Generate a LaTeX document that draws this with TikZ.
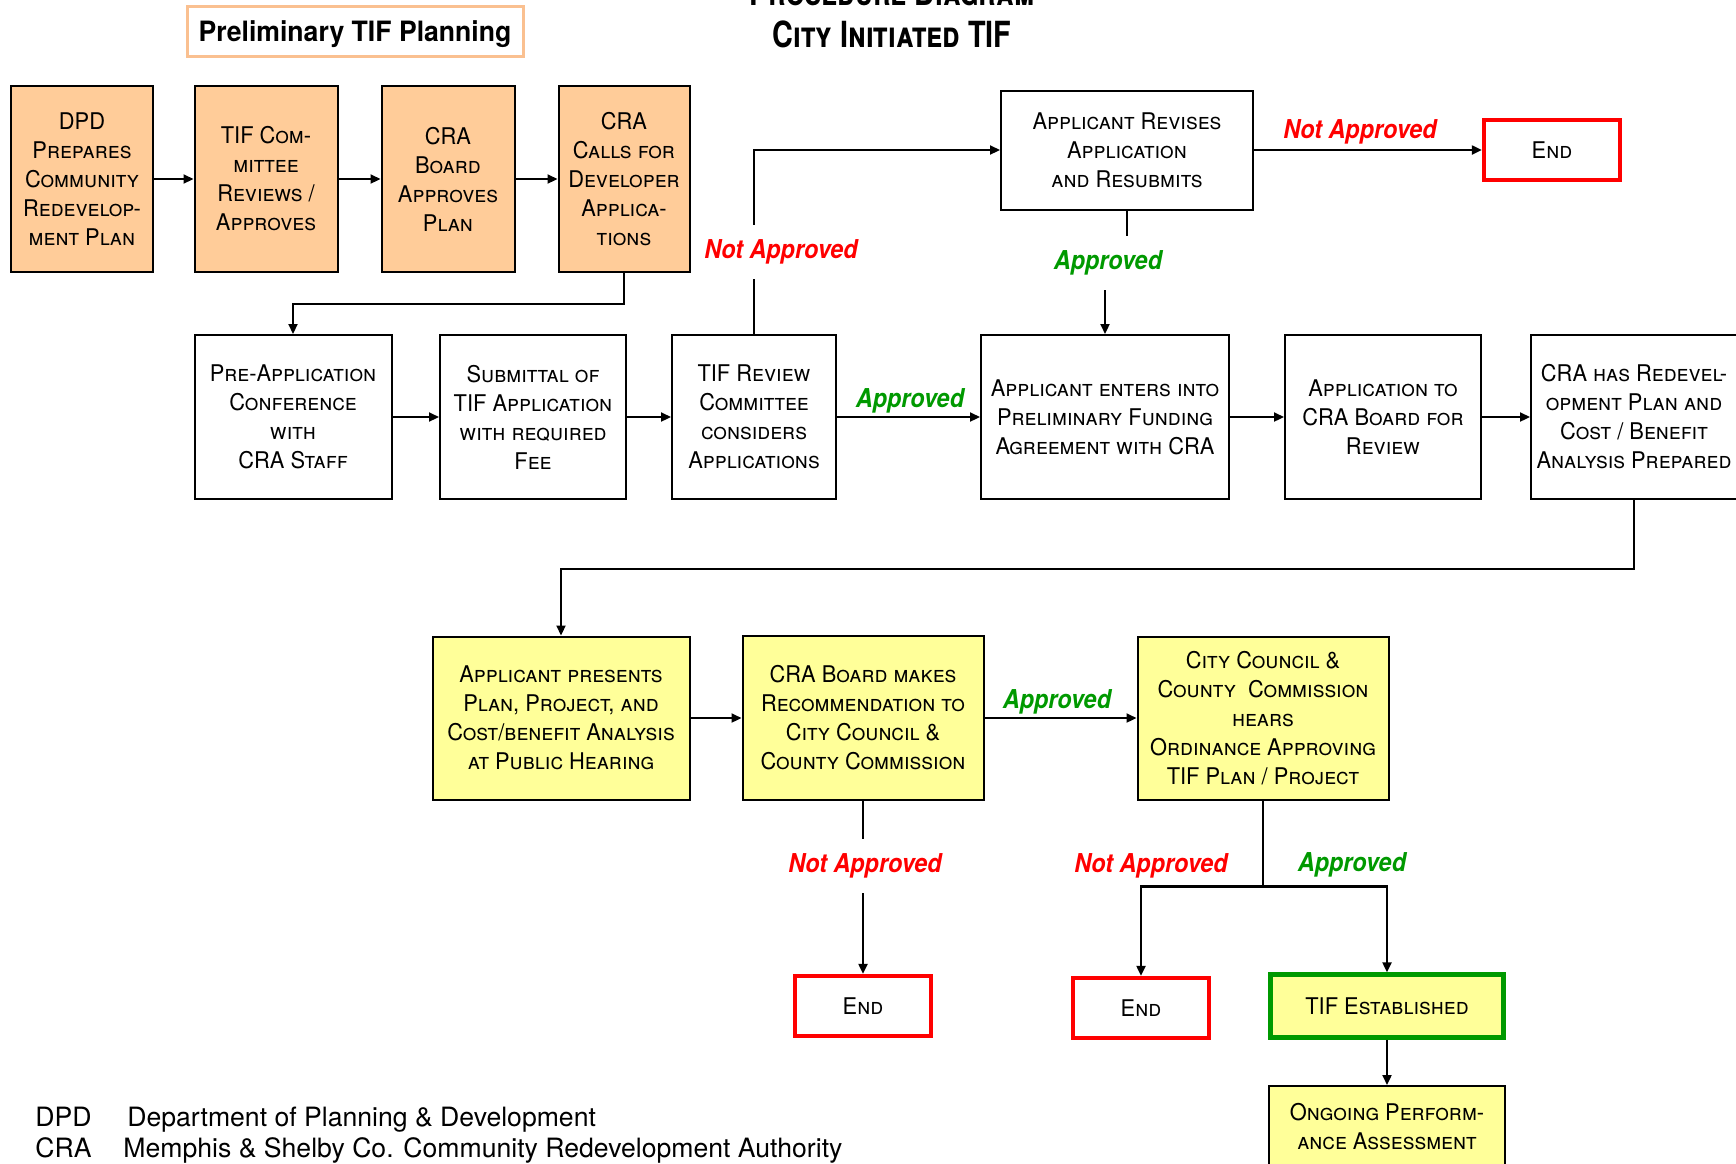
\documentclass[tikz,border=0pt]{standalone}
\usepackage{fontspec}
\setmainfont[FakeStretch=0.95]{TeX Gyre Heros}
\newfontfamily\labfont[FakeStretch=0.9]{TeX Gyre Heros}
\newfontfamily\narrowfont[FakeStretch=0.8]{TeX Gyre Heros}
\newfontfamily\keyfont{TeX Gyre Heros}
\usetikzlibrary{arrows.meta}
\definecolor{peach}{HTML}{FFCC99}
\definecolor{paleyellow}{HTML}{FFFF99}
\definecolor{okgreen}{HTML}{009900}
\definecolor{planedge}{HTML}{FAC090}
\newcommand{\boxfont}{\fontsize{11.5}{14.5}\selectfont\scshape}

\begin{document}
\begin{tikzpicture}[x=0.5pt,y=-0.5pt,
	every node/.style={align=center,inner sep=0pt},
	stepbox/.style={draw,line width=1pt,font=\boxfont},
	planbox/.style={stepbox,fill=peach},
	hearbox/.style={stepbox,fill=paleyellow},
	endbox/.style={draw=red,line width=2.2pt,font=\boxfont,minimum width=68pt,minimum height=30pt},
	noway/.style={font=\labfont\fontsize{13}{13}\selectfont\bfseries\itshape,text=red,minimum height=27pt},
	goway/.style={noway,text=okgreen},
	keytext/.style={anchor=base west,font=\keyfont\fontsize{13.3}{13.3}\selectfont},
	arr/.style={line width=1.1pt,-{Triangle[length=5pt,width=4.5pt]}}]
	
	\useasboundingbox (0,0) rectangle (1736,1163);
	\clip (0,0) rectangle (1736,1163);
	
	%titles
	\node[font=\narrowfont\fontsize{18}{18}\selectfont\scshape\bfseries,anchor=base] (proc) at (892,5) {Procedure Diagram};
	\node[font=\narrowfont\fontsize{18}{18}\selectfont\scshape\bfseries] (city) at (892,34) {City Initiated TIF};
	\node[draw=planedge,line width=1.5pt,minimum width=168pt,minimum height=25pt,text depth=0pt,font=\fontsize{14}{14}\selectfont\bfseries] (prelim) at (355,31) {Preliminary TIF Planning};
	
	%preliminary planning
	\node[planbox,minimum width=71pt,minimum height=93pt] (dpd) at (82,179) {DPD\\Prepares\\Community\\Redevelop-\\ment Plan};
	\node[planbox,minimum width=71.5pt,minimum height=93pt] (tifcom) at (266,179) {TIF Com-\\mittee\\Reviews /\\Approves};
	\node[planbox,minimum width=66.5pt,minimum height=93pt] (craboard) at (448,179) {CRA\\Board\\Approves\\Plan};
	\node[planbox,minimum width=65.5pt,minimum height=93pt] (cracalls) at (624,179) {CRA\\Calls for\\Developer\\Applica-\\tions};
	
	%application
	\node[stepbox,minimum width=98.5pt,minimum height=82pt] (preapp) at (293,417) {Pre-Application\\Conference\\with\\CRA Staff};
	\node[stepbox,minimum width=93pt,minimum height=82pt] (submit) at (533,417) {Submittal of\\TIF Application\\with required\\Fee};
	\node[stepbox,minimum width=82pt,minimum height=82pt] (review) at (754,417) {TIF Review\\Committee\\considers\\Applications};
	\node[stepbox,minimum width=124pt,minimum height=82pt] (enters) at (1105,417) {Applicant enters into\\Preliminary Funding\\Agreement with CRA};
	\node[stepbox,minimum width=98pt,minimum height=82pt] (tocra) at (1383,417) {Application to\\CRA Board for\\Review};
	\node[stepbox,minimum width=103pt,minimum height=82pt] (cbplan) at (1634,417) {CRA has Redevel-\\opment Plan and\\Cost / Benefit\\Analysis Prepared};
	\node[stepbox,minimum width=126pt,minimum height=59.5pt] (revise) at (1127,150) {Applicant Revises\\Application\\and Resubmits};
	\node[endbox] (endA) at (1552,150) {End};
	
	%hearings
	\node[hearbox,minimum width=128.5pt,minimum height=81.5pt] (present) at (561,718) {Applicant presents\\Plan, Project, and\\Cost/benefit Analysis\\at Public Hearing};
	\node[hearbox,minimum width=120.5pt,minimum height=82pt] (recomm) at (863,718) {CRA Board makes\\Recommendation to\\City Council \&\\County Commission};
	\node[hearbox,minimum width=125.5pt,minimum height=81.5pt] (council) at (1263,718) {City Council \&\\County\ \ Commission\\hears\\Ordinance Approving\\TIF Plan / Project};
	\node[endbox] (endB) at (863,1006) {End};
	\node[endbox] (endC) at (1141,1008) {End};
	\node[hearbox,draw=okgreen,line width=2.2pt,minimum width=116.5pt,minimum height=31.5pt] (tifest) at (1387,1006) {TIF Established};
	\node[hearbox,minimum width=118pt,minimum height=41pt] (ongoing) at (1387,1127) {Ongoing Perform-\\ance Assessment};
	
	%labels
	\node[noway] (na1) at (781,252) {Not Approved};
	\node[noway] (na2) at (1360,132) {Not Approved};
	\node[goway] (ap1) at (1108,263) {Approved};
	\node[goway] (ap2) at (910,401) {Approved};
	\node[goway] (ap3) at (1057,702) {Approved};
	\node[noway] (na3) at (865,866) {Not Approved};
	\node[noway] (na4) at (1151,866) {Not Approved};
	\node[goway] (ap4) at (1352,865) {Approved};
	
	\begin{scope}[every path/.style={line width=1.1pt}]
	%edges
	\draw[arr] (dpd) -- (tifcom);
	\draw[arr] (tifcom) -- (craboard);
	\draw[arr] (craboard) -- (cracalls);
	\draw[arr] (cracalls.south) -- ++(0,31) -| (preapp.north);
	\draw[arr] (preapp) -- (submit);
	\draw[arr] (submit) -- (review);
	\draw (review.north) -- (review.north |- na1.south);
	\draw[arr] (review.north |- na1.north) |- (revise.west);
	\draw[arr] (revise) -- (endA);
	\draw (revise.south) -- (revise.south |- ap1.north);
	\draw[arr] (enters.north |- ap1.south) -- (enters.north);
	\draw[arr] (review) -- (enters);
	\draw[arr] (enters) -- (tocra);
	\draw[arr] (tocra) -- (cbplan);
	\draw[arr] (cbplan.south) -- ++(0,69) -| (present.north);
	\draw[arr] (present) -- (recomm);
	\draw[arr] (recomm) -- (council);
	\draw (recomm.south) -- (recomm.south |- na3.north);
	\draw[arr] (recomm.south |- na3.south) -- (endB.north);
	\draw (council.south) -- ++(0,86) coordinate (fork);
	\draw[arr] (fork) -| (endC.north);
	\draw[arr] (fork) -| (tifest.north);
	\draw[arr] (tifest) -- (ongoing);
	\end{scope}
	
	%legend
	\node[keytext] (dpdkey) at (35,1126) {DPD};
	\node[keytext] (dpdtext) at (127,1126) {Department of Planning \& Development};
	\node[keytext] (crakey) at (35,1157) {CRA};
	\node[keytext] (cratext) at (123,1157) {Memphis \& Shelby Co. Community Redevelopment Authority};
\end{tikzpicture}
\end{document}
